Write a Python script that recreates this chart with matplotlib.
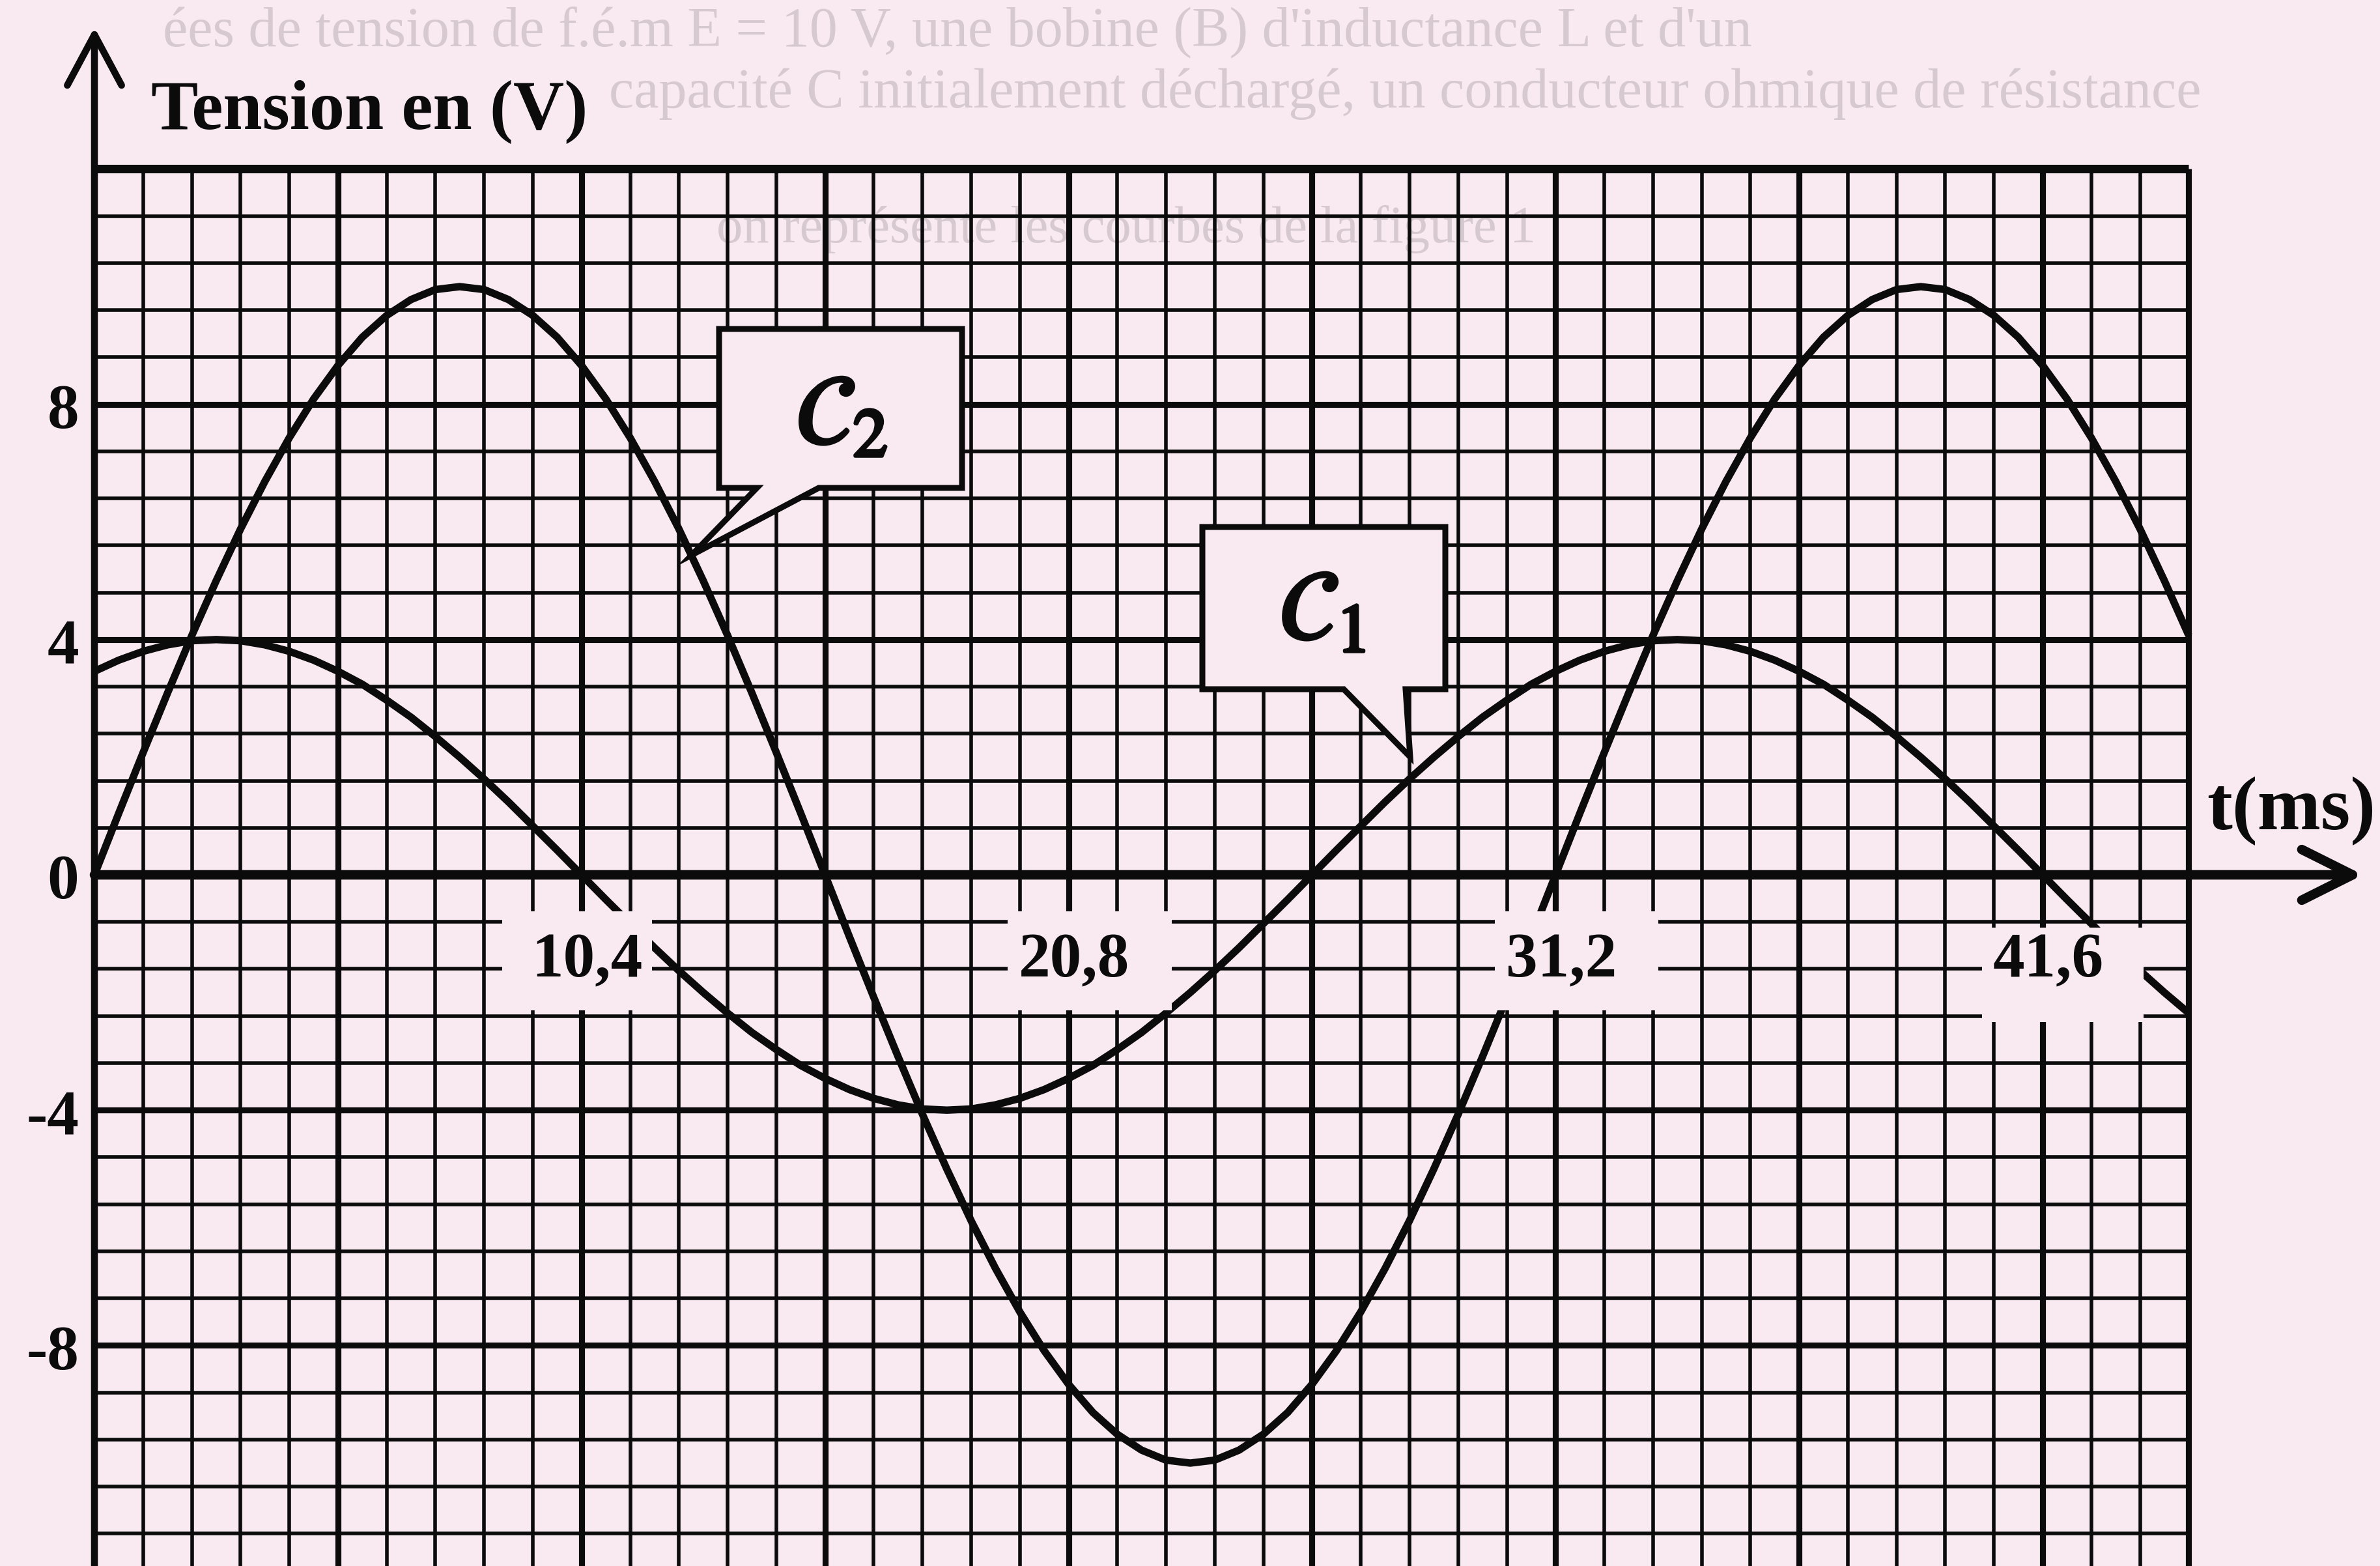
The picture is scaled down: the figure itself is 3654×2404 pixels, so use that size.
import numpy as np
import matplotlib
matplotlib.use("Agg")
import matplotlib.pyplot as plt
from matplotlib.patches import Rectangle, Polygon, FancyArrowPatch, ArrowStyle
import matplotlib.patheffects as pe

# ---------------- data ----------------
T_MS = [0.0, 0.52, 1.04, 1.56, 2.08, 2.6, 3.12, 3.64, 4.16, 4.68, 5.2, 5.72,
        6.24, 6.76, 7.28, 7.8, 8.32, 8.84, 9.36, 9.88, 10.4, 10.92, 11.44,
        11.96, 12.48, 13.0, 13.52, 14.04, 14.56, 15.08, 15.6, 16.12, 16.64,
        17.16, 17.68, 18.2, 18.72, 19.24, 19.76, 20.28, 20.8, 21.32, 21.84,
        22.36, 22.88, 23.4, 23.92, 24.44, 24.96, 25.48, 26.0, 26.52, 27.04,
        27.56, 28.08, 28.6, 29.12, 29.64, 30.16, 30.68, 31.2, 31.72, 32.24,
        32.76, 33.28, 33.8, 34.32, 34.84, 35.36, 35.88, 36.4, 36.92, 37.44,
        37.96, 38.48, 39.0, 39.52, 40.04, 40.56, 41.08, 41.6, 42.12, 42.64,
        43.16, 43.68, 44.2, 44.72]
C1_V = [3.46, 3.65, 3.80, 3.91, 3.98, 4.00, 3.98, 3.91, 3.80, 3.65, 3.46, 3.24,
        2.97, 2.68, 2.35, 2.00, 1.63, 1.24, 0.83, 0.42, 0.00, -0.42, -0.83,
        -1.24, -1.63, -2.00, -2.35, -2.68, -2.97, -3.24, -3.46, -3.65, -3.80,
        -3.91, -3.98, -4.00, -3.98, -3.91, -3.80, -3.65, -3.46, -3.24, -2.97,
        -2.68, -2.35, -2.00, -1.63, -1.24, -0.83, -0.42, 0.00, 0.42, 0.83,
        1.24, 1.63, 2.00, 2.35, 2.68, 2.97, 3.24, 3.46, 3.65, 3.80,
        3.91, 3.98, 4.00, 3.98, 3.91, 3.80, 3.65, 3.46, 3.24, 2.97,
        2.68, 2.35, 2.00, 1.63, 1.24, 0.83, 0.42, 0.00, -0.42, -0.83,
        -1.24, -1.63, -2.00, -2.35]
C2_V = [0.0, 1.05, 2.08, 3.09, 4.07, 5.00, 5.88, 6.69, 7.43, 8.09, 8.66, 9.14,
        9.51, 9.78, 9.95, 10.0, 9.95, 9.78, 9.51, 9.14, 8.66, 8.09, 7.43,
        6.69, 5.88, 5.00, 4.07, 3.09, 2.08, 1.05, 0.0, -1.05, -2.08,
        -3.09, -4.07, -5.00, -5.88, -6.69, -7.43, -8.09, -8.66, -9.14, -9.51,
        -9.78, -9.95, -10.0, -9.95, -9.78, -9.51, -9.14, -8.66, -8.09, -7.43,
        -6.69, -5.88, -5.00, -4.07, -3.09, -2.08, -1.05, 0.0, 1.05, 2.08,
        3.09, 4.07, 5.00, 5.88, 6.69, 7.43, 8.09, 8.66, 9.14, 9.51,
        9.78, 9.95, 10.0, 9.95, 9.78, 9.51, 9.14, 8.66, 8.09, 7.43,
        6.69, 5.88, 5.00, 4.07]
X_TICKS = [10.4, 20.8, 31.2, 41.6]
X_TICK_LABELS = ["10,4", "20,8", "31,2", "41,6"]
Y_TICKS = [8, 4, 0, -4, -8]
Y_TICK_LABELS = ["8", "4", "0", "-4", "-8"]
MINOR_T = 1.04          # ms per small square
MINOR_V = 0.8           # V per small square
T_END = 44.72
V_TOP = 12.0
Y_TITLE = "Tension en (V)"
X_TITLE = "t(ms)"
CURVE_NAMES = [r"$\mathcal{C}_1$", r"$\mathcal{C}_2$"]
BACK_TEXT = [
    "ées de tension de f.é.m E = 10 V, une bobine (B) d'inductance L et d'un",
    "capacité C initialement déchargé, un conducteur ohmique de résistance",
    "on représente les courbes de la figure 1",
]

# ---------------- layout ----------------
W, H = 3655, 2404
X0, Y0 = 145, 1343          # pixel of origin
SX, SY = 71.9, 90.3         # px per ms, px per V
PAPER = "#f9e9f0"
INK = "#0b0b0b"
FAINT = "#d6c9cf"


def t_of(px):
    return (px - X0) / SX


def v_of(py):
    return (Y0 - py) / SY


plt.rcParams["mathtext.fontset"] = "stix"
SERIF = "Liberation Serif"

fig = plt.figure(figsize=(W / 100, H / 100), dpi=100, facecolor=PAPER)
ax = fig.add_axes([0, 0, 1, 1])
ax.set_xlim(t_of(0), t_of(W))
ax.set_ylim(v_of(H), v_of(0))
ax.set_facecolor(PAPER)
ax.axis("off")
v_bot = v_of(H)

# faint text of the page above the figure
ax.text(t_of(250), v_of(70), BACK_TEXT[0], fontsize=62, family=SERIF,
        color=FAINT, va="baseline", ha="left", zorder=0)
ax.text(t_of(935), v_of(165), BACK_TEXT[1], fontsize=62, family=SERIF,
        color=FAINT, va="baseline", ha="left", zorder=0)
ax.text(t_of(1100), v_of(372), BACK_TEXT[2], fontsize=58, family=SERIF,
        color=FAINT, va="baseline", ha="left", zorder=0)

# ---------------- grid (graph paper) ----------------
n_t = int(round(T_END / MINOR_T))
for i in range(1, n_t + 1):
    t = i * MINOR_T
    major = (i % 5 == 0) or i == n_t
    ax.vlines(t, v_bot, V_TOP, colors=INK, lw=6.6 if major else 4.0, zorder=1)
n_v = int(round(V_TOP / MINOR_V))
for j in range(-n_v, n_v + 1):
    v = j * MINOR_V
    if j == 0 or v < v_bot:
        continue
    if j == n_v:
        lw = 9.4
    elif j % 5 == 0:
        lw = 6.6
    else:
        lw = 4.0
    ax.hlines(v, 0, T_END, colors=INK, lw=lw, zorder=1)

# ---------------- axes with arrows ----------------
ax.add_patch(FancyArrowPatch((0, v_bot), (0, v_of(42)),
                             arrowstyle=ArrowStyle("->", head_length=56, head_width=30),
                             mutation_scale=1, lw=7.6, color=INK,
                             shrinkA=0, shrinkB=0, zorder=2))
ax.add_patch(FancyArrowPatch((0, 0), (t_of(3628), 0),
                             arrowstyle=ArrowStyle("->", head_length=56, head_width=28),
                             mutation_scale=1, lw=10.5, color=INK,
                             shrinkA=0, shrinkB=0, zorder=2))

# ---------------- curves ----------------
for vals in (C1_V, C2_V):
    ax.plot(T_MS, vals, color=INK, lw=8.2, solid_joinstyle="round",
            solid_capstyle="butt", zorder=3)

# ---------------- tick labels ----------------
lab_font = dict(family=SERIF, weight="bold", fontsize=70, color=INK)
# blank areas behind the time labels (left, right offsets; top, bottom V)
boxes = [(-1.7, 1.5, -0.62, -2.3), (-1.3, 2.2, -0.62, -2.3),
         (-1.3, 2.2, -0.62, -2.3), (-1.3, 2.15, -0.9, -2.5)]
for tk, lab, (l, r, top, bot) in zip(X_TICKS, X_TICK_LABELS, boxes):
    ax.add_patch(Rectangle((tk + l, bot), r - l, top - bot, facecolor=PAPER,
                           edgecolor="none", zorder=4))
    ax.text(tk + 0.12, -1.72, lab, ha="center", va="baseline", zorder=5,
            **lab_font)
for yv, lab in zip(Y_TICKS, Y_TICK_LABELS):
    ax.text(t_of(121), yv - 0.4, lab, ha="right", va="baseline", **lab_font)

# axis titles
ax.text(t_of(232), v_of(198), Y_TITLE, ha="left", va="baseline",
        family=SERIF, weight="bold", fontsize=78, color=INK)
ax.text(t_of(3388), v_of(1272), X_TITLE, ha="left", va="baseline",
        family=SERIF, weight="bold", fontsize=84, color=INK)

# ---------------- callouts ----------------
def callout(pts_px, text_px, name):
    pts = [(t_of(x), v_of(y)) for x, y in pts_px]
    ax.add_patch(Polygon(pts, closed=True, facecolor=PAPER, edgecolor=INK,
                         lw=6.5, joinstyle="miter", zorder=6))
    ax.text(t_of(text_px[0]), v_of(text_px[1]), name, ha="center", va="center",
            fontsize=108, color=INK, zorder=7,
            path_effects=[pe.withStroke(linewidth=4, foreground=INK)])


callout([(1104, 505), (1477, 505), (1477, 749), (1257, 749), (1062, 852),
         (1162, 749), (1104, 749)], (1292, 640), CURVE_NAMES[1])
callout([(1846, 809), (2219, 809), (2219, 1058), (2158, 1058), (2165, 1162),
         (2063, 1058), (1846, 1058)], (2030, 940), CURVE_NAMES[0])

fig.savefig("out.png", dpi=100, facecolor=PAPER)
